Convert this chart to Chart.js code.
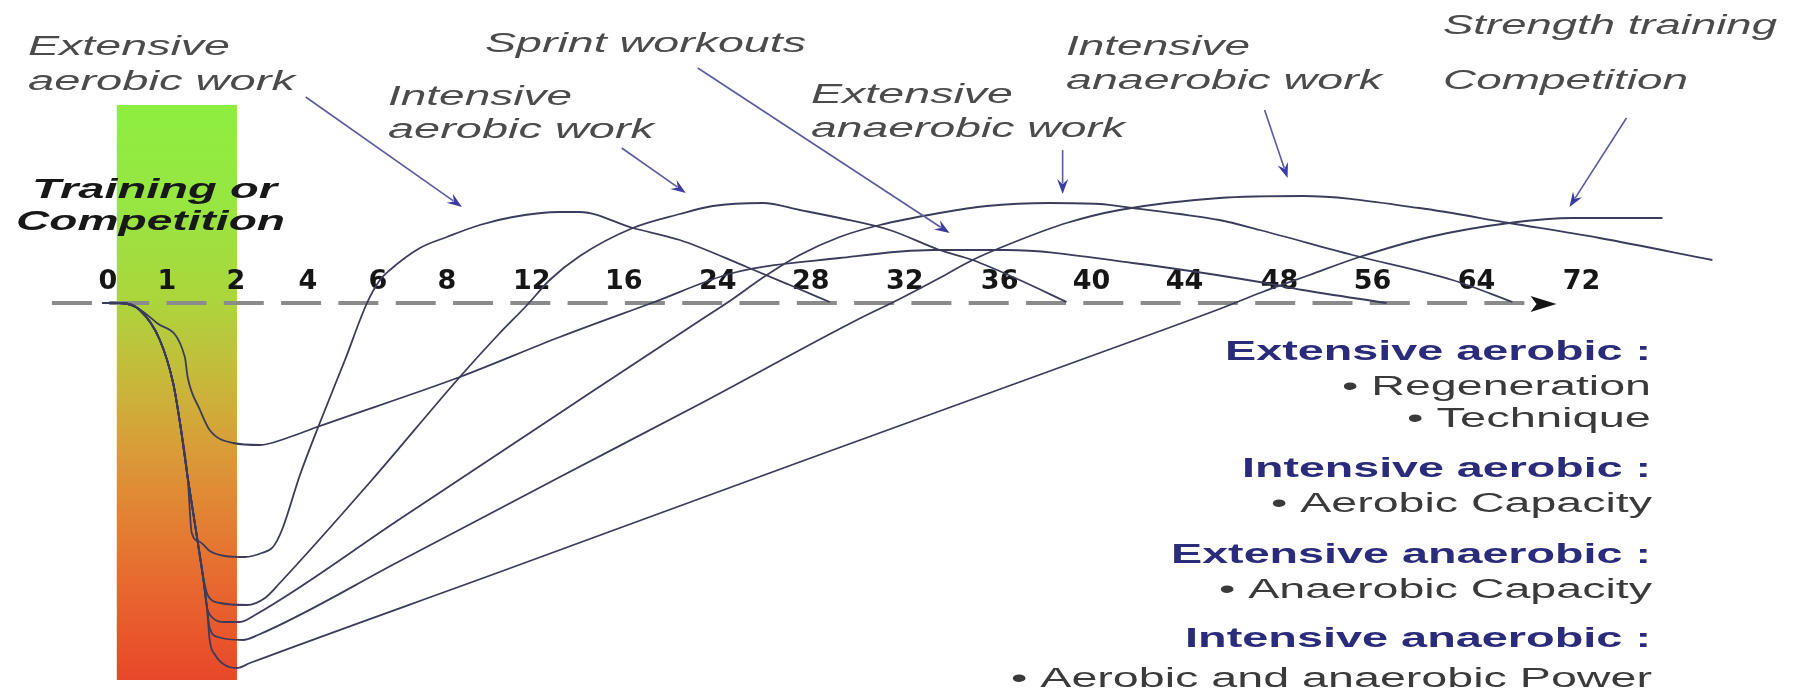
<!DOCTYPE html>
<html>
<head>
<meta charset="utf-8">
<script src="https://cdn.jsdelivr.net/npm/chart.js@4.4.1/dist/chart.umd.min.js"></script>
<style>
  html, body { margin: 0; padding: 0; background: #ffffff; }
  #wrap { position: relative; width: 1794px; height: 689px; }
</style>
</head>
<body>
<div id="wrap"><canvas id="chart"></canvas></div>
<script>
// ---------------- DATA ----------------
const TICK_HOURS  = [0, 1, 2, 4, 6, 8, 12, 16, 24, 28, 32, 36, 40, 44, 48, 56, 64, 72];
const TICK_LABELS = ['0','1','2','4','6','8','12','16','24','28','32','36','40','44','48','56','64','72'];

const CURVE_NAMES = ['Sprint workouts', 'Extensive aerobic work', 'Intensive aerobic work',
                     'Extensive anaerobic work', 'Intensive anaerobic work', 'Strength training / Competition'];

// hours after the session, performance level (0 = baseline)
const sprintHours = [-0.1,0.2,0.42,0.83,1.26,1.30,1.48,1.62,1.96,2.67,3.42,4.26,8.61,13.22,18.38,24.65,29.23,33.18,36.30,41.76,47.16,49.98,57.08];
const sprintLevel = [0,0,-0.2,-2.0,-5.4,-7.4,-10.7,-12.7,-14.0,-14.2,-13.5,-12.4,-7.4,-3.4,0,3.0,4.5,5.3,5.3,4.0,2.1,1.3,0];

const extAerHours = [-0.1,0.2,0.54,0.88,1.09,1.19,1.30,1.36,1.48,1.62,1.84,2.25,2.72,3.03,3.28,3.78,4.34,5.06,5.69,6.06,6.35,7.22,8.0,9.55,11.11,13.22,14.09,16.77,20.77,25.25,27.10,28.81];
const extAerLevel = [0,0,-0.7,-3.7,-8.0,-12.0,-17.4,-23.0,-23.9,-24.8,-25.3,-25.4,-25.0,-24.4,-22.7,-17.2,-12.0,-5.7,0,2.3,3.3,5.5,6.6,7.8,8.6,9.1,9.1,7.5,6.3,3.6,1.8,0.1];

const intAerHours = [-0.1,0.2,0.54,0.88,1.09,1.19,1.30,1.42,1.52,1.59,1.77,2.31,2.81,3.22,5.83,8.61,10.45,11.78,12.78,14.09,16.77,20.77,23.57,25.94,27.53,29.23,31.36,33.47,34.86,36.87,38.91];
const intAerLevel = [0,0,-0.7,-3.7,-8.0,-12.0,-17.4,-22.7,-27.2,-29.2,-30.0,-30.2,-29.5,-28.0,-17.7,-7.4,-3.1,-0.2,2.3,4.7,7.5,8.9,9.7,10.0,9.3,8.5,7.3,5.3,4.3,2.3,0.1];

const extAnaHours = [-0.1,0.2,0.54,0.88,1.09,1.19,1.30,1.42,1.52,1.58,1.65,1.84,2.11,2.53,6.64,13.22,22.55,24.39,26.11,27.53,29.23,30.94,33.47,35.45,38.17,40.34,41.76,43.78,45.47,47.16,54.28,62.15,66.74];
const extAnaLevel = [0,0,-0.7,-3.7,-8.0,-12.0,-17.4,-22.7,-27.2,-30.4,-31.4,-31.9,-31.9,-31.2,-21.6,-11.0,-1.7,0,2.8,4.8,6.6,7.8,9.0,9.7,10.0,9.9,9.5,8.9,8.3,7.3,4.8,2.3,0.1];

const intAnaHours = [-0.1,0.2,0.54,0.88,1.09,1.19,1.30,1.42,1.52,1.58,1.62,1.74,2.19,2.61,6.64,13.22,22.47,29.96,31.7,33.47,34.86,36.87,38.91,41.2,45.47,49.98,59.6,66.5,73.37,81.98];
const intAnaLevel = [0,0,-0.7,-3.7,-8.0,-12.0,-17.4,-22.7,-27.2,-30.4,-32.5,-33.4,-33.7,-33.2,-25.8,-17.4,-10.1,-1.7,0.3,2.5,4.3,6.3,8.0,9.3,10.5,10.7,9.5,8.0,6.5,4.3];

const strengthHours = [-0.1,0.2,0.54,0.88,1.09,1.19,1.30,1.42,1.52,1.58,1.62,1.70,1.84,2.03,2.39,10.49,27.53,40.34,45.47,47.28,50.58,54.88,60.38,66.51,71.31,78.17];
const strengthLevel = [0,0,-0.7,-3.7,-8.0,-12.0,-17.4,-22.7,-27.2,-30.4,-33.7,-35.2,-36.2,-36.5,-36.0,-26.9,-15.9,-5.0,-0.6,1.1,2.8,4.6,6.6,8.0,8.5,8.5];

// ---------------- LAYOUT / STYLE ----------------
// relative spacing of the hour labels along the (non-uniform) time axis
const AXIS_TICK_OFFSETS = [0,0.59,1.28,2.00,2.70,3.39,4.24,5.16,6.10,7.03,7.97,8.92,9.84,10.77,11.72,12.65,13.69,14.74];
const X_RANGE = { min: -1.83, max: 88.2 };
const Y_RANGE = { min: -38.6, max: 30.3 };
const SESSION_BAND = { x0: 0.15, x1: 2.03, yTop: 19.8, yBottom: -37.7 };
const AXIS_ARROW = { from: -0.95, base: 68.27, tip: 70.1 };
const CURVE_COLOR = '#3b3b5c';

const POINTERS = [
  { from: [3.94, 20.6],  to: [8.71, 9.6] },
  { from: [15.91, 15.5], to: [21.28, 11.0] },
  { from: [22.3, 23.5],  to: [33.89, 7.0] },
  { from: [38.74, 15.3], to: [38.74, 10.9] },
  { from: [47.37, 19.3], to: [48.69, 12.5] },
  { from: [75.43, 18.5], to: [71.09, 9.6] }
];

const FONT = '"Liberation Sans", Arial, Helvetica, sans-serif';
const TEXT_STYLES = {
  ann:   { font: 'italic 27px ' + FONT, color: '#4b4b4b' },
  phase: { font: 'italic bold 27px ' + FONT, color: '#181818' },
  head:  { font: 'bold 27px ' + FONT, color: '#2b2b7c' },
  item:  { font: '27px ' + FONT, color: '#3a3a3a' }
};
// [text, x, baseline, width, style, align]
const TEXT_LAYOUT = [
  ['Extensive', 28, 55, 202, 'ann', 'left'],
  ['aerobic work', 28, 90, 267, 'ann', 'left'],
  ['Intensive', 388, 105, 184, 'ann', 'left'],
  ['aerobic work', 388, 138, 266, 'ann', 'left'],
  ['Sprint workouts', 485, 52, 321, 'ann', 'left'],
  ['Extensive', 811, 103, 202, 'ann', 'left'],
  ['anaerobic work', 811, 137, 314, 'ann', 'left'],
  ['Intensive', 1066, 55, 184, 'ann', 'left'],
  ['anaerobic work', 1066, 89, 316, 'ann', 'left'],
  ['Strength training', 1443, 34, 334, 'ann', 'left'],
  ['Competition', 1443, 89, 245, 'ann', 'left'],
  ['Training or', 32, 198, 245, 'phase', 'left'],
  ['Competition', 16, 230, 269, 'phase', 'left'],
  ['Extensive aerobic :', 1651, 360, 426, 'head', 'right'],
  ['\u2022 Regeneration', 1651, 395, 309, 'item', 'right'],
  ['\u2022 Technique', 1651, 427, 244, 'item', 'right'],
  ['Intensive aerobic :', 1651, 477, 409, 'head', 'right'],
  ['\u2022 Aerobic Capacity', 1652, 512, 381, 'item', 'right'],
  ['Extensive anaerobic :', 1651, 563, 480, 'head', 'right'],
  ['\u2022 Anaerobic Capacity', 1652, 598, 433, 'item', 'right'],
  ['Intensive anaerobic :', 1651, 647, 466, 'head', 'right'],
  ['\u2022 Aerobic and anaerobic Power', 1652, 687, 641, 'item', 'right']
];

// ---------------- piecewise time scale ----------------
function toSlot(h) {
  const H = TICK_HOURS, S = AXIS_TICK_OFFSETS, n = H.length;
  if (h <= H[0]) return S[0] + (h - H[0]) * (S[1] - S[0]) / (H[1] - H[0]);
  if (h >= H[n - 1]) return S[n - 1] + (h - H[n - 1]) * (S[n - 1] - S[n - 2]) / (H[n - 1] - H[n - 2]);
  for (let i = 1; i < n; i++) {
    if (h <= H[i]) return S[i - 1] + (h - H[i - 1]) * (S[i] - S[i - 1]) / (H[i] - H[i - 1]);
  }
}
function fromSlot(s) {
  const H = TICK_HOURS, S = AXIS_TICK_OFFSETS, n = H.length;
  if (s <= S[0]) return H[0] + (s - S[0]) * (H[1] - H[0]) / (S[1] - S[0]);
  if (s >= S[n - 1]) return H[n - 1] + (s - S[n - 1]) * (H[n - 1] - H[n - 2]) / (S[n - 1] - S[n - 2]);
  for (let i = 1; i < n; i++) {
    if (s <= S[i]) return H[i - 1] + (s - S[i - 1]) * (H[i] - H[i - 1]) / (S[i] - S[i - 1]);
  }
}
class HourMapScale extends Chart.LinearScale {
  getPixelForValue(v) {
    if (v === null || v === undefined || isNaN(v)) return NaN;
    const a = toSlot(this.min), b = toSlot(this.max);
    return this.left + (toSlot(v) - a) / (b - a) * this.width;
  }
  getValueForPixel(p) {
    const a = toSlot(this.min), b = toSlot(this.max);
    return fromSlot(a + (p - this.left) / this.width * (b - a));
  }
}
HourMapScale.id = 'hourmap';
HourMapScale.defaults = {};
Chart.register(HourMapScale);

// ---------------- decorations ----------------
function drawPointer(ctx, x0, y0, x1, y1) {
  const ang = Math.atan2(y1 - y0, x1 - x0);
  const c = Math.cos(ang), s = Math.sin(ang);
  const L = 15, W = 5.5;
  ctx.save();
  ctx.strokeStyle = '#5a5aa2';
  ctx.lineWidth = 1.6;
  ctx.beginPath();
  ctx.moveTo(x0, y0);
  ctx.lineTo(x1 - 0.7 * L * c, y1 - 0.7 * L * s);
  ctx.stroke();
  ctx.fillStyle = '#3c3ca4';
  ctx.beginPath();
  ctx.moveTo(x1, y1);
  ctx.lineTo(x1 - L * c - W * s, y1 - L * s + W * c);
  ctx.lineTo(x1 - 0.65 * L * c, y1 - 0.65 * L * s);
  ctx.lineTo(x1 - L * c + W * s, y1 - L * s - W * c);
  ctx.closePath();
  ctx.fill();
  ctx.restore();
}
function fitText(ctx, t, x, y, w, style, align) {
  const st = TEXT_STYLES[style];
  ctx.save();
  ctx.font = st.font;
  ctx.fillStyle = st.color;
  ctx.textBaseline = 'alphabetic';
  ctx.textAlign = 'left';
  const m = ctx.measureText(t).width;
  const sx = w / m;
  ctx.translate(align === 'right' ? x - w : x, y);
  ctx.scale(sx, 1);
  ctx.fillText(t, 0, 0);
  ctx.restore();
}

const decor = {
  id: 'decor',
  beforeDraw(chart) {
    const {ctx, scales: {x, y}} = chart;
    const x0 = x.getPixelForValue(SESSION_BAND.x0), x1 = x.getPixelForValue(SESSION_BAND.x1);
    const y0 = y.getPixelForValue(SESSION_BAND.yTop), y1 = y.getPixelForValue(SESSION_BAND.yBottom);
    const g = ctx.createLinearGradient(0, y0, 0, y1);
    g.addColorStop(0.00, '#8eee40');
    g.addColorStop(0.17, '#97e642');
    g.addColorStop(0.34, '#acd53c');
    g.addColorStop(0.48, '#c8b83a');
    g.addColorStop(0.60, '#d99c38');
    g.addColorStop(0.70, '#e28534');
    g.addColorStop(0.86, '#e8632e');
    g.addColorStop(1.00, '#e8472a');
    ctx.save();
    ctx.fillStyle = g;
    ctx.fillRect(x0, y0, x1 - x0, y1 - y0);
    ctx.restore();
  },
  beforeDatasetsDraw(chart) {
    const {ctx, scales: {x, y}} = chart;
    const ay = y.getPixelForValue(0);
    const xs = x.getPixelForValue(AXIS_ARROW.from);
    const xb = x.getPixelForValue(AXIS_ARROW.base);
    const xt = x.getPixelForValue(AXIS_ARROW.tip);
    ctx.save();
    ctx.strokeStyle = '#8b8b8b';
    ctx.lineWidth = 4;
    ctx.setLineDash([40, 17.3]);
    ctx.beginPath();
    ctx.moveTo(xs, ay);
    ctx.lineTo(xb, ay);
    ctx.stroke();
    ctx.setLineDash([]);
    ctx.fillStyle = '#151515';
    ctx.beginPath();
    ctx.moveTo(xt, ay + 1);
    ctx.lineTo(xb - 2, ay - 7);
    ctx.lineTo(xb + 4, ay + 1);
    ctx.lineTo(xb - 2, ay + 9);
    ctx.closePath();
    ctx.fill();
    ctx.restore();
  },
  afterDatasetsDraw(chart) {
    const {ctx, scales: {x, y}} = chart;
    POINTERS.forEach(p => {
      drawPointer(ctx, x.getPixelForValue(p.from[0]), y.getPixelForValue(p.from[1]),
                       x.getPixelForValue(p.to[0]), y.getPixelForValue(p.to[1]));
    });
    TEXT_LAYOUT.forEach(([t, tx, ty, w, st, al]) => fitText(ctx, t, tx, ty, w, st, al));
  }
};

// ---------------- chart ----------------
const series = [
  [sprintHours, sprintLevel], [extAerHours, extAerLevel], [intAerHours, intAerLevel],
  [extAnaHours, extAnaLevel], [intAnaHours, intAnaLevel], [strengthHours, strengthLevel]
];
const datasets = series.map(([hs, lv], i) => ({
  label: CURVE_NAMES[i],
  data: hs.map((h, j) => ({ x: h, y: lv[j] })),
  borderColor: CURVE_COLOR,
  borderWidth: 1.8,
  pointRadius: 0,
  fill: false,
  cubicInterpolationMode: 'monotone'
}));

new Chart(document.getElementById('chart'), {
  type: 'line',
  data: { datasets },
  options: {
    responsive: true,
    maintainAspectRatio: false,
    animation: false,
    events: [],
    layout: { padding: 0 },
    plugins: { legend: { display: false }, tooltip: { enabled: false } },
    scales: {
      x: {
        type: 'hourmap',
        min: X_RANGE.min, max: X_RANGE.max,
        bounds: 'data',
        position: { y: 0 },
        grid: { display: false, drawTicks: false },
        border: { display: false },
        afterBuildTicks: (scale) => { scale.ticks = TICK_HOURS.map(v => ({ value: v })); },
        ticks: {
          autoSkip: false, maxRotation: 0, minRotation: 0,
          padding: -37,
          color: '#161616',
          font: { family: '"DejaVu Sans", sans-serif', size: 27, weight: 'bold', lineHeight: 1.2 },
          callback: (v, i) => TICK_LABELS[i]
        }
      },
      y: { type: 'linear', display: false, min: Y_RANGE.min, max: Y_RANGE.max }
    }
  },
  plugins: [decor]
});
</script>
</body>
</html>
